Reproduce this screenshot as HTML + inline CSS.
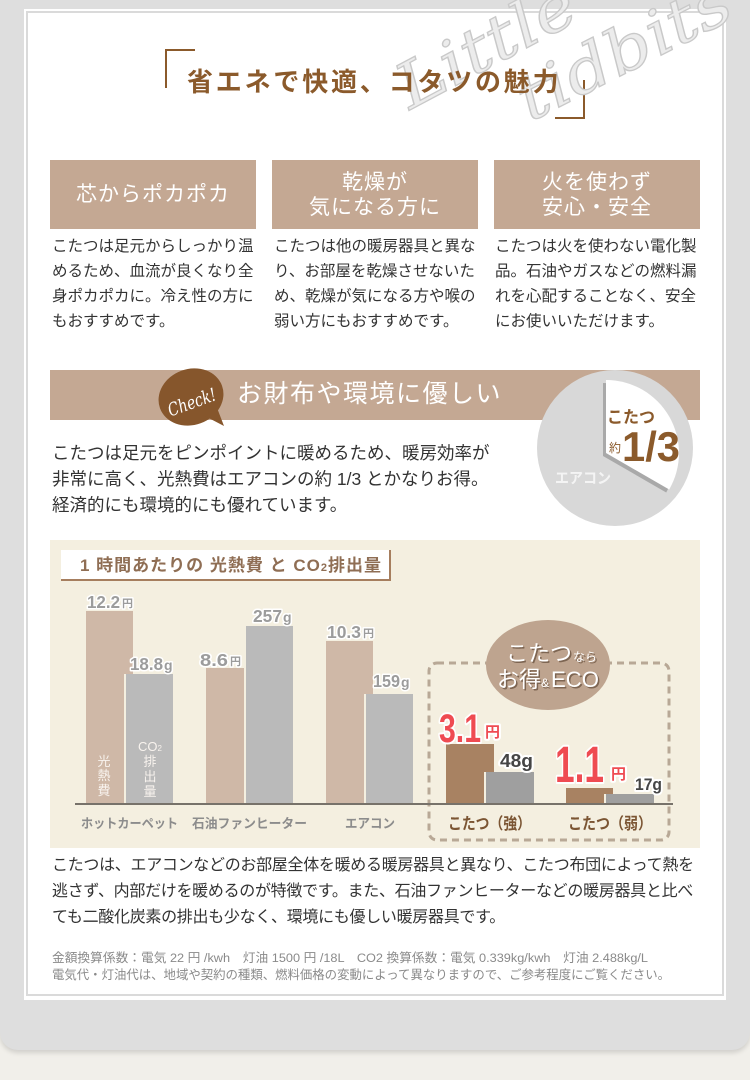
<!DOCTYPE html>
<html><head><meta charset="utf-8">
<style>
*{margin:0;padding:0;box-sizing:border-box}
body{width:750px;height:1080px;background:#f1efea;position:relative;overflow:hidden;font-family:"Liberation Sans","Noto Sans CJK JP",sans-serif;color:#333}
.a{position:absolute}
.frame{left:0;top:0;width:750px;height:1050px;background:#dedede;border-radius:0 0 18px 18px;box-shadow:0 3px 5px rgba(0,0,0,.13)}
.panel{left:24px;top:9px;width:702px;height:991px;background:#fff}
.inner{left:26px;top:11px;width:698px;height:985px;border:2px solid #dadada}
.br{border-color:#8b5a2b;border-style:solid;border-width:0}
.title{left:187px;top:67px;line-height:30px;font-size:26px;font-weight:700;color:#8b5a2b;letter-spacing:2.8px;white-space:nowrap}
.hd{top:160px;width:206px;height:69px;background:#c4a893;color:#fff;font-size:21px;letter-spacing:1px;line-height:25px;display:flex;flex-direction:column;align-items:center;justify-content:center;text-align:center}
.bt{top:234px;font-size:15.5px;line-height:25px;white-space:nowrap;color:#333}
.banner{left:50px;top:370px;width:650px;height:50px;background:#c4a893}
.bantx{left:237px;top:379px;line-height:30px;font-size:25px;color:#fff;letter-spacing:1.5px;white-space:nowrap}
.cp{left:52px;top:440px;font-size:17.5px;line-height:26px;white-space:nowrap;color:#333}
.chartbg{left:50px;top:540px;width:650px;height:308px;background:#f4efe0}
.tbox{left:61px;top:550px;width:330px;height:31px;background:#fff;border-right:2px solid #a67e5e;border-bottom:2px solid #a67e5e}
.ttx{left:80px;top:554px;line-height:24px;font-size:17px;font-weight:700;color:#8f6e54;letter-spacing:1px;white-space:nowrap}
.bp{left:52px;top:853px;font-size:16px;letter-spacing:-0.3px;line-height:26px;white-space:nowrap;color:#333}
</style></head><body>
<div class="a frame"></div>
<div class="a panel"></div>
<div class="a inner"></div>

<div class="a br" style="left:165px;top:49px;width:30px;height:39px;border-left-width:2px;border-top-width:2px"></div>
<div class="a br" style="left:555px;top:80px;width:30px;height:39px;border-right-width:2px;border-bottom-width:2px"></div>

<div class="a hd" style="left:50px">芯からポカポカ</div>
<div class="a hd" style="left:272px"><div>乾燥が</div><div>気になる方に</div></div>
<div class="a hd" style="left:494px"><div>火を使わず</div><div>安心・安全</div></div>

<div class="a bt" style="left:52px">こたつは足元からしっかり温<br>めるため、血流が良くなり全<br>身ポカポカに。冷え性の方に<br>もおすすめです。</div>
<div class="a bt" style="left:274px">こたつは他の暖房器具と異な<br>り、お部屋を乾燥させないた<br>め、乾燥が気になる方や喉の<br>弱い方にもおすすめです。</div>
<div class="a bt" style="left:495px">こたつは火を使わない電化製<br>品。石油やガスなどの燃料漏<br>れを心配することなく、安全<br>にお使いいただけます。</div>

<div class="a banner"></div>
<div class="a chartbg"></div>
<div class="a tbox"></div>

<svg class="a" style="left:0;top:0" width="750" height="1080" font-family="Liberation Sans, Noto Sans CJK JP, sans-serif">
  <!-- watermark -->
  <g fill="#ececec" stroke="#c9c9c9" stroke-width="1.3" font-family="DejaVu Serif, Liberation Serif, serif" font-style="italic">
    <text x="410" y="110" font-size="62" transform="rotate(-28 410 110)" textLength="195" lengthAdjust="spacingAndGlyphs">Little</text>
    <text x="530" y="122" font-size="62" transform="rotate(-27 530 122)" textLength="232" lengthAdjust="spacingAndGlyphs">tidbits</text>
  </g>

  <!-- check bubble -->
  <ellipse cx="191" cy="397" rx="33" ry="28" fill="#86562c" transform="rotate(-20 191 397)"/>
  <polygon points="201,414 224,426 214,400" fill="#86562c"/>
  <text x="166" y="409" font-size="18" fill="#fff" font-family="DejaVu Serif, Liberation Serif, serif" font-style="italic" transform="rotate(-20 190 400)" textLength="50" lengthAdjust="spacingAndGlyphs">Check!</text>

  <!-- pie -->
  <circle cx="615" cy="448" r="78" fill="#d8d8d8"/>
  <path d="M603,456 L603,383 A73,73 0 0,1 666.2,492.5 Z" fill="#a9a9a9"/>
  <path d="M606,453 L606,380 A73,73 0 0,1 669.2,489.5 Z" fill="#fff"/>
  <text x="607" y="423" font-size="17" font-weight="700" fill="#8b5a2b" textLength="48" lengthAdjust="spacingAndGlyphs">こたつ</text>
  <text x="609" y="452" font-size="12" fill="#8b5a2b">約</text>
  <text x="622" y="461" font-size="42" font-weight="700" fill="#8b5a2b" textLength="58" lengthAdjust="spacingAndGlyphs">1/3</text>
  <text x="555" y="483" font-size="15" font-weight="700" fill="#f4f4f4" textLength="56" lengthAdjust="spacingAndGlyphs">エアコン</text>

  <!-- dashed box -->
  <rect x="429" y="663" width="240" height="177" rx="8" fill="none" stroke="#b8a896" stroke-width="3" stroke-dasharray="7 5"/>

  <!-- bars -->
  <g>
    <rect x="86" y="611" width="47" height="193" fill="#cfb8a7"/>
    <rect x="124" y="674" width="2" height="130" fill="#f4efe0"/>
    <rect x="126" y="674" width="47" height="130" fill="#bababa"/>

    <rect x="206" y="668" width="47" height="136" fill="#cfb8a7"/>
    <rect x="244" y="626" width="2" height="178" fill="#f4efe0"/>
    <rect x="246" y="626" width="47" height="178" fill="#bababa"/>

    <rect x="326" y="641" width="47" height="163" fill="#cfb8a7"/>
    <rect x="364" y="694" width="2" height="110" fill="#f4efe0"/>
    <rect x="366" y="694" width="47" height="110" fill="#bababa"/>

    <rect x="446" y="744" width="48" height="60" fill="#a88262"/>
    <rect x="484" y="772" width="2" height="32" fill="#f4efe0"/>
    <rect x="486" y="772" width="48" height="32" fill="#9f9f9f"/>

    <rect x="566" y="788" width="47" height="16" fill="#a88262"/>
    <rect x="604" y="794" width="2" height="10" fill="#f4efe0"/>
    <rect x="606" y="794" width="48" height="10" fill="#9f9f9f"/>
  </g>
  <rect x="75" y="803" width="598" height="2" fill="#77726a"/>

  <!-- in-bar labels -->
  <g fill="#f8f3ee" font-size="13" text-anchor="middle">
    <text x="104" y="766">光</text>
    <text x="104" y="780">熱</text>
    <text x="104" y="795">費</text>
    <text x="150" y="751">CO<tspan font-size="8">2</tspan></text>
    <text x="150" y="766">排</text>
    <text x="150" y="781">出</text>
    <text x="150" y="796">量</text>
  </g>

  <!-- value labels -->
  <g font-weight="700" fill="#9c9c9c" stroke="#fff" stroke-width="3" paint-order="stroke" stroke-linejoin="round">
    <text x="87" y="608" font-size="17.5" textLength="33" lengthAdjust="spacingAndGlyphs">12.2</text>
    <text x="122" y="607" font-size="11">円</text>
    <text x="130" y="670" font-size="17.5" textLength="33" lengthAdjust="spacingAndGlyphs">18.8</text>
    <text x="164" y="670" font-size="14">g</text>
    <text x="200" y="666" font-size="17.5" textLength="28" lengthAdjust="spacingAndGlyphs">8.6</text>
    <text x="230" y="665" font-size="11">円</text>
    <text x="253" y="622" font-size="17.5" textLength="29" lengthAdjust="spacingAndGlyphs">257</text>
    <text x="283" y="622" font-size="14">g</text>
    <text x="327" y="638" font-size="17.5" textLength="34" lengthAdjust="spacingAndGlyphs">10.3</text>
    <text x="363" y="637" font-size="11">円</text>
    <text x="373" y="687" font-size="17.5" textLength="27" lengthAdjust="spacingAndGlyphs">159</text>
    <text x="401" y="687" font-size="14">g</text>
  </g>
  <g font-weight="700" stroke="#fff" stroke-width="4" paint-order="stroke" stroke-linejoin="round">
    <text x="439" y="742" font-size="40" fill="#ef4b52" textLength="42" lengthAdjust="spacingAndGlyphs">3.1</text>
    <text x="485" y="737" font-size="15" fill="#ef4b52">円</text>
    <text x="500" y="767" font-size="18" fill="#454545" textLength="33" lengthAdjust="spacingAndGlyphs">48g</text>
    <text x="555" y="782" font-size="51" fill="#ef4b52" textLength="49" lengthAdjust="spacingAndGlyphs">1.1</text>
    <text x="611" y="779" font-size="15" fill="#ef4b52">円</text>
    <text x="635" y="790" font-size="17" fill="#454545" textLength="27" lengthAdjust="spacingAndGlyphs">17g</text>
  </g>

  <!-- ellipse badge -->
  <ellipse cx="548" cy="665" rx="62" ry="45" fill="#bea48f"/>
  <g fill="#7d6552" transform="translate(1.5,1.5)">
    <text x="506" y="661" font-size="22" textLength="66" lengthAdjust="spacingAndGlyphs">こたつ</text>
    <text x="573" y="661" font-size="12">なら</text>
    <text x="497" y="687" font-size="22" textLength="44" lengthAdjust="spacingAndGlyphs">お得</text>
    <text x="541" y="687" font-size="12">&amp;</text>
    <text x="551" y="687" font-size="22" textLength="48" lengthAdjust="spacingAndGlyphs">ECO</text>
  </g>
  <g fill="#fff">
    <text x="506" y="661" font-size="22" textLength="66" lengthAdjust="spacingAndGlyphs">こたつ</text>
    <text x="573" y="661" font-size="12">なら</text>
    <text x="497" y="687" font-size="22" textLength="44" lengthAdjust="spacingAndGlyphs">お得</text>
    <text x="541" y="687" font-size="12">&amp;</text>
    <text x="551" y="687" font-size="22" textLength="48" lengthAdjust="spacingAndGlyphs">ECO</text>
  </g>

  <!-- category labels -->
  <g font-size="13" font-weight="700" fill="#8c8c8c">
    <text x="81" y="828" textLength="97" lengthAdjust="spacingAndGlyphs">ホットカーペット</text>
    <text x="192" y="828" textLength="115" lengthAdjust="spacingAndGlyphs">石油ファンヒーター</text>
    <text x="345" y="828" textLength="50" lengthAdjust="spacingAndGlyphs">エアコン</text>
  </g>
  <g font-size="16" font-weight="700" fill="#7b5533">
    <text x="448" y="829" textLength="83" lengthAdjust="spacingAndGlyphs">こたつ（強）</text>
    <text x="568" y="829" textLength="84" lengthAdjust="spacingAndGlyphs">こたつ（弱）</text>
  </g>

  <!-- footnotes -->
  <g fill="#8a8a8a" font-size="12.4">
    <text x="52" y="962" textLength="596" lengthAdjust="spacingAndGlyphs">金額換算係数：電気 22 円 /kwh　灯油 1500 円 /18L　CO2 換算係数：電気 0.339kg/kwh　灯油 2.488kg/L</text>
    <text x="52" y="979" textLength="618" lengthAdjust="spacingAndGlyphs">電気代・灯油代は、地域や契約の種類、燃料価格の変動によって異なりますので、ご参考程度にご覧ください。</text>
  </g>
</svg>

<div class="a title">省エネで快適、コタツの魅力</div>
<div class="a bantx">お財布や環境に優しい</div>
<div class="a cp">こたつは足元をピンポイントに暖めるため、暖房効率が<br>非常に高く、光熱費はエアコンの約 1/3 とかなりお得。<br>経済的にも環境的にも優れています。</div>
<div class="a ttx">1 時間あたりの 光熱費 と CO<span style="font-size:11px">2</span>排出量</div>
<div class="a bp">こたつは、エアコンなどのお部屋全体を暖める暖房器具と異なり、こたつ布団によって熱を<br>逃さず、内部だけを暖めるのが特徴です。また、石油ファンヒーターなどの暖房器具と比べ<br>ても二酸化炭素の排出も少なく、環境にも優しい暖房器具です。</div>
</body></html>
